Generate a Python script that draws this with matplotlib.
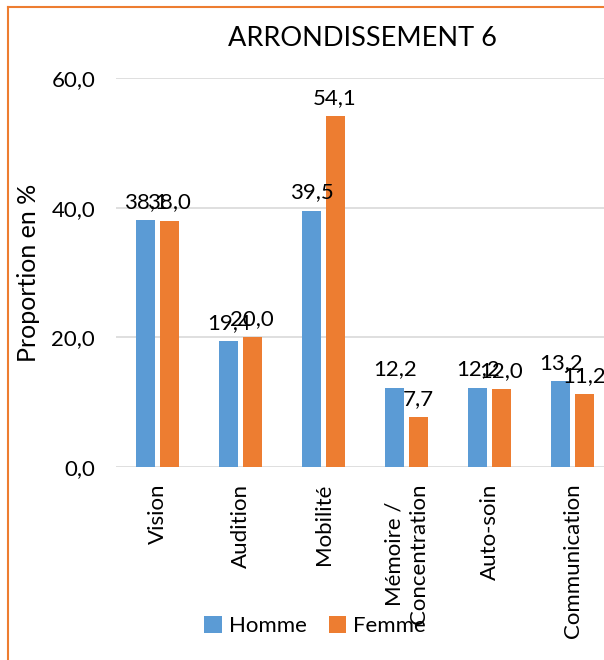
import numpy as np
from matplotlib import pyplot as plt
from matplotlib.lines import Line2D

categories = ['Vision', 'Audition', 'Mobilité', 'Mémoire /\nConcentration', 'Auto-soin', 'Communication']
homme = [38.1, 19.4, 39.5, 12.2, 12.2, 13.2]
femme = [38.0, 20.0, 54.1, 7.7, 12.0, 11.2]
yticks = [0, 20, 40, 60]

BLUE = '#5B9BD5'
ORANGE = '#ED7D31'

plt.rcParams['font.family'] = ['Lato', 'DejaVu Sans']

fig = plt.figure(figsize=(6.04, 6.6), dpi=100)
ax = fig.add_axes([116 / 604, 1 - 467 / 660, 498 / 604, (467 - 78) / 660])

x = np.arange(len(categories))
w = 0.23
b1 = ax.bar(x - 0.14, homme, w, color=BLUE, label='Homme', zorder=3)
b2 = ax.bar(x + 0.14, femme, w, color=ORANGE, label='Femme', zorder=3)

for bars in (b1, b2):
    ax.bar_label(bars, labels=[f'{v:.1f}'.replace('.', ',') for v in bars.datavalues],
                 padding=6, fontsize=16)

ax.set_xlim(-0.5, len(categories) - 0.5)
ax.set_ylim(0, 60)
ax.set_yticks(yticks)
ax.set_yticklabels([f'{v:.1f}'.replace('.', ',') for v in yticks], fontsize=16)
ax.set_xticks(x)
ax.set_xticklabels(categories, rotation=90, fontsize=16, va='top', linespacing=1.25)
ax.tick_params(length=0, pad=12)
ax.tick_params(axis='y', pad=15)
ax.grid(axis='y', color='#D9D9D9', linewidth=1.2, zorder=0)
for s in ax.spines.values():
    s.set_visible(False)

ax.set_ylabel('Proportion en %', fontsize=18, labelpad=8)
fig.text(362 / 604, 1 - 38 / 660, 'ARRONDISSEMENT 6', fontsize=19.5, ha='center', va='center')

fig.legend(loc='center', bbox_to_anchor=(315 / 604, 1 - 626 / 660), ncol=2, frameon=False,
           fontsize=16, handlelength=0.8, handleheight=0.8, columnspacing=1.0, handletextpad=0.3)

fig.add_artist(Line2D([8 / 604, 1], [1 - 7 / 660, 1 - 7 / 660], color=ORANGE, lw=1.5))
fig.add_artist(Line2D([8 / 604, 8 / 604], [0, 1 - 7 / 660], color=ORANGE, lw=1.5))

fig.savefig('out.png', dpi=100)
